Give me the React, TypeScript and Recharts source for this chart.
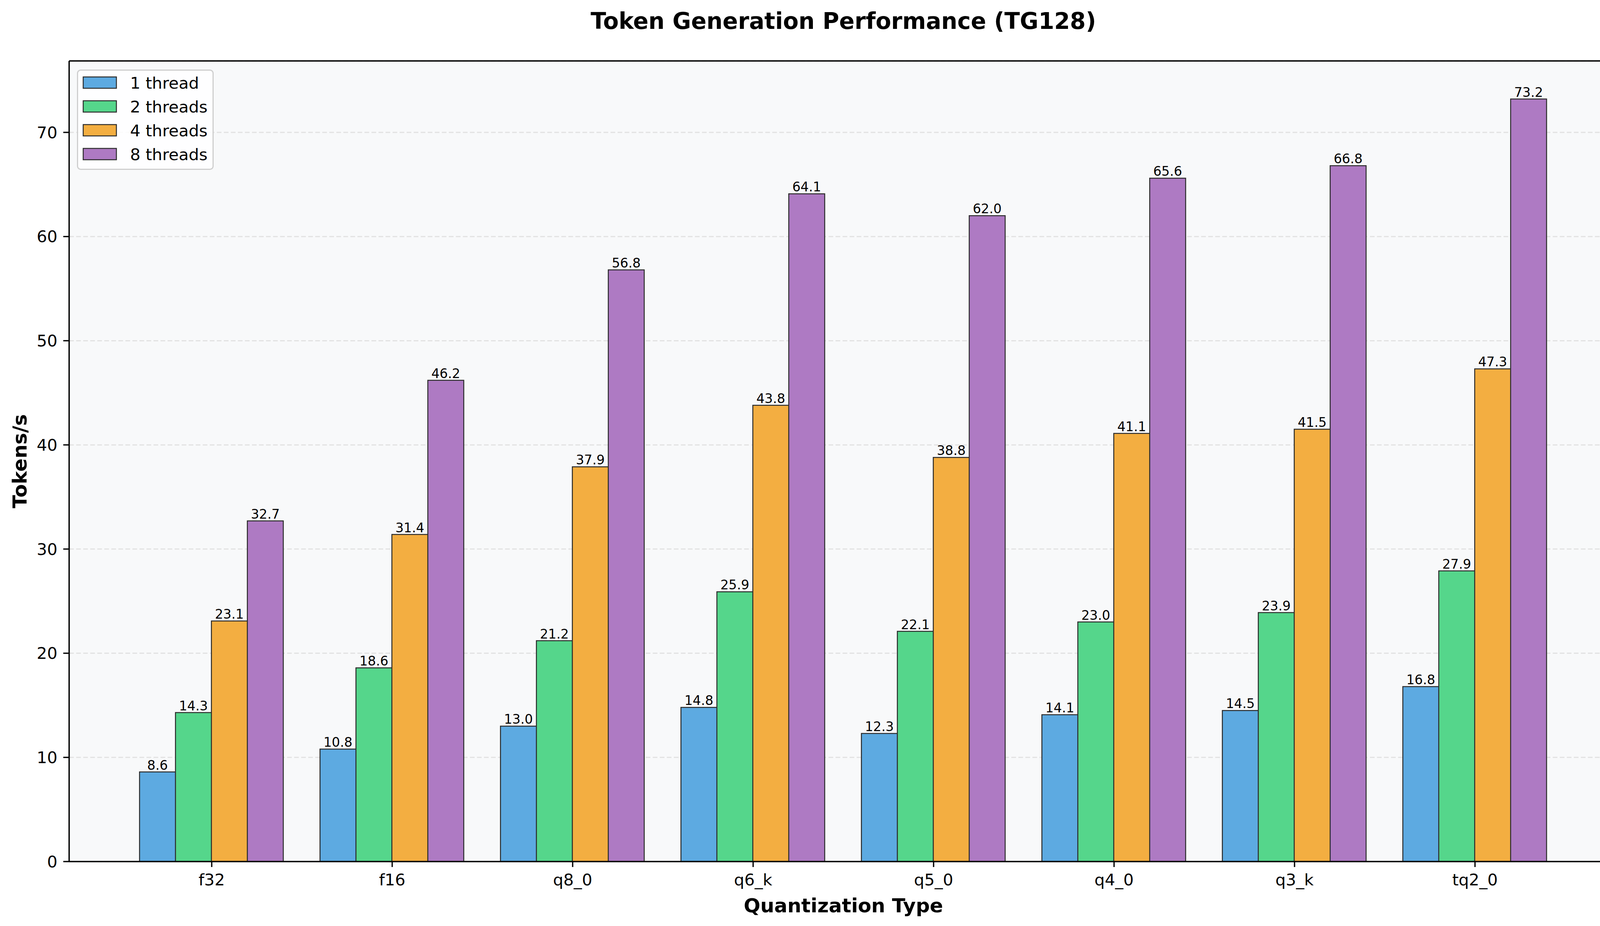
import React from "react";
import { Bar, BarChart, CartesianGrid, LabelList, Legend, XAxis, YAxis } from "recharts";

const quantTypes = ["f32", "f16", "q8_0", "q6_k", "q5_0", "q4_0", "q3_k", "tq2_0"];
const oneThread = [8.6, 10.8, 13.0, 14.8, 12.3, 14.1, 14.5, 16.8];
const twoThreads = [14.3, 18.6, 21.2, 25.9, 22.1, 23.0, 23.9, 27.9];
const fourThreads = [23.1, 31.4, 37.9, 43.8, 38.8, 41.1, 41.5, 47.3];
const eightThreads = [32.7, 46.2, 56.8, 64.1, 62.0, 65.6, 66.8, 73.2];
const yTicks = [0, 10, 20, 30, 40, 50, 60, 70];

const series = [
  { key: "t1", name: "1 thread", values: oneThread, color: "#5DAAE1" },
  { key: "t2", name: "2 threads", values: twoThreads, color: "#55D68B" },
  { key: "t4", name: "4 threads", values: fourThreads, color: "#F3AE41" },
  { key: "t8", name: "8 threads", values: eightThreads, color: "#AE7AC3" },
];

const rows = quantTypes.map((q, i) => {
  const row: Record<string, string | number> = { quant: q };
  series.forEach((s) => (row[s.key] = s.values[i]));
  return row;
});

const W = 4172;
const H = 2371;
const FONT = "'DejaVu Sans', sans-serif";
const EDGE = "#2c2c2c";
const yMax = Math.max(...eightThreads) * 1.05;

function LegendBox({ payload }: any) {
  return (
    <svg width={350} height={257} style={{ display: "block" }}>
      <rect x={1.5} y={1.5} width={347} height={254} rx={8} fill="#ffffff" fillOpacity={0.85} stroke="#cfcfcf" strokeWidth={3} />
      {(payload || []).map((p: any, i: number) => (
        <g key={p.value}>
          <rect x={16} y={19 + i * 61} width={85} height={29} fill={p.color} stroke={EDGE} strokeWidth={2.5} />
          <text x={136} y={49 + i * 61} fontSize={41.7} fontFamily={FONT} fill="#000">
            {p.value}
          </text>
        </g>
      ))}
    </svg>
  );
}

export default function App() {
  return (
    <div style={{ position: "absolute", left: 0, top: 0, width: W, height: H, background: "#fff", fontFamily: FONT, overflow: "hidden" }}>
      <BarChart
        width={W}
        height={H}
        data={rows}
        margin={{ top: 155, right: 30, left: 57, bottom: 105 }}
        barCategoryGap="10%"
        barGap={0}
      >
        <CartesianGrid vertical={false} fill="#F8F9FA" stroke="#e2e2e2" strokeWidth={3} strokeDasharray="12 6" />
        <XAxis
          dataKey="quant"
          height={60}
          padding={{ left: 134, right: 134 }}
          tick={{ fontSize: 41.7, fill: "#000", fontFamily: FONT }}
          tickSize={14}
          tickMargin={17}
          tickLine={{ stroke: "#000", strokeWidth: 3.3 }}
          axisLine={{ stroke: "#000", strokeWidth: 3.5 }}
          interval={0}
        />
        <XAxis
          xAxisId="top"
          orientation="top"
          dataKey="quant"
          height={1}
          tick={false}
          tickLine={false}
          axisLine={{ stroke: "#000", strokeWidth: 3.5 }}
        />
        <YAxis
          width={120}
          domain={[0, yMax]}
          ticks={yTicks}
          allowDataOverflow
          tick={{ fontSize: 41.7, fill: "#000", fontFamily: FONT }}
          tickSize={15}
          tickMargin={15}
          tickLine={{ stroke: "#000", strokeWidth: 3.3 }}
          axisLine={{ stroke: "#000", strokeWidth: 3.5 }}
        />
        <YAxis
          yAxisId="right"
          orientation="right"
          width={1}
          domain={[0, yMax]}
          tick={false}
          tickLine={false}
          axisLine={{ stroke: "#000", strokeWidth: 3.5 }}
        />
        <Legend
          layout="vertical"
          align="center"
          verticalAlign="middle"
          content={<LegendBox />}
          wrapperStyle={{ position: "absolute", left: 197, top: 178, width: 350, height: 257 }}
        />
        {series.map((s) => (
          <Bar key={s.key} dataKey={s.key} name={s.name} fill={s.color} stroke={EDGE} strokeWidth={2.5} isAnimationActive={false}>
            <LabelList
              dataKey={s.key}
              position="top"
              offset={6}
              formatter={(v: any) => Number(v).toFixed(1)}
              style={{ fontSize: 33.3, fill: "#000", fontFamily: FONT }}
            />
          </Bar>
        ))}
      </BarChart>
      <svg width={W} height={H} style={{ position: "absolute", left: 0, top: 0, pointerEvents: "none" }}>
        <text x={2159} y={74} textAnchor="middle" fontSize={58} fontWeight="bold" fontFamily={FONT} fill="#000">
          Token Generation Performance (TG128)
        </text>
        <text x={2159} y={2336} textAnchor="middle" fontSize={50} fontWeight="bold" fontFamily={FONT} fill="#000">
          Quantization Type
        </text>
        <text x={68} y={1181} textAnchor="middle" fontSize={50} fontWeight="bold" fontFamily={FONT} fill="#000" transform="rotate(-90 68 1181)">
          Tokens/s
        </text>
      </svg>
    </div>
  );
}
